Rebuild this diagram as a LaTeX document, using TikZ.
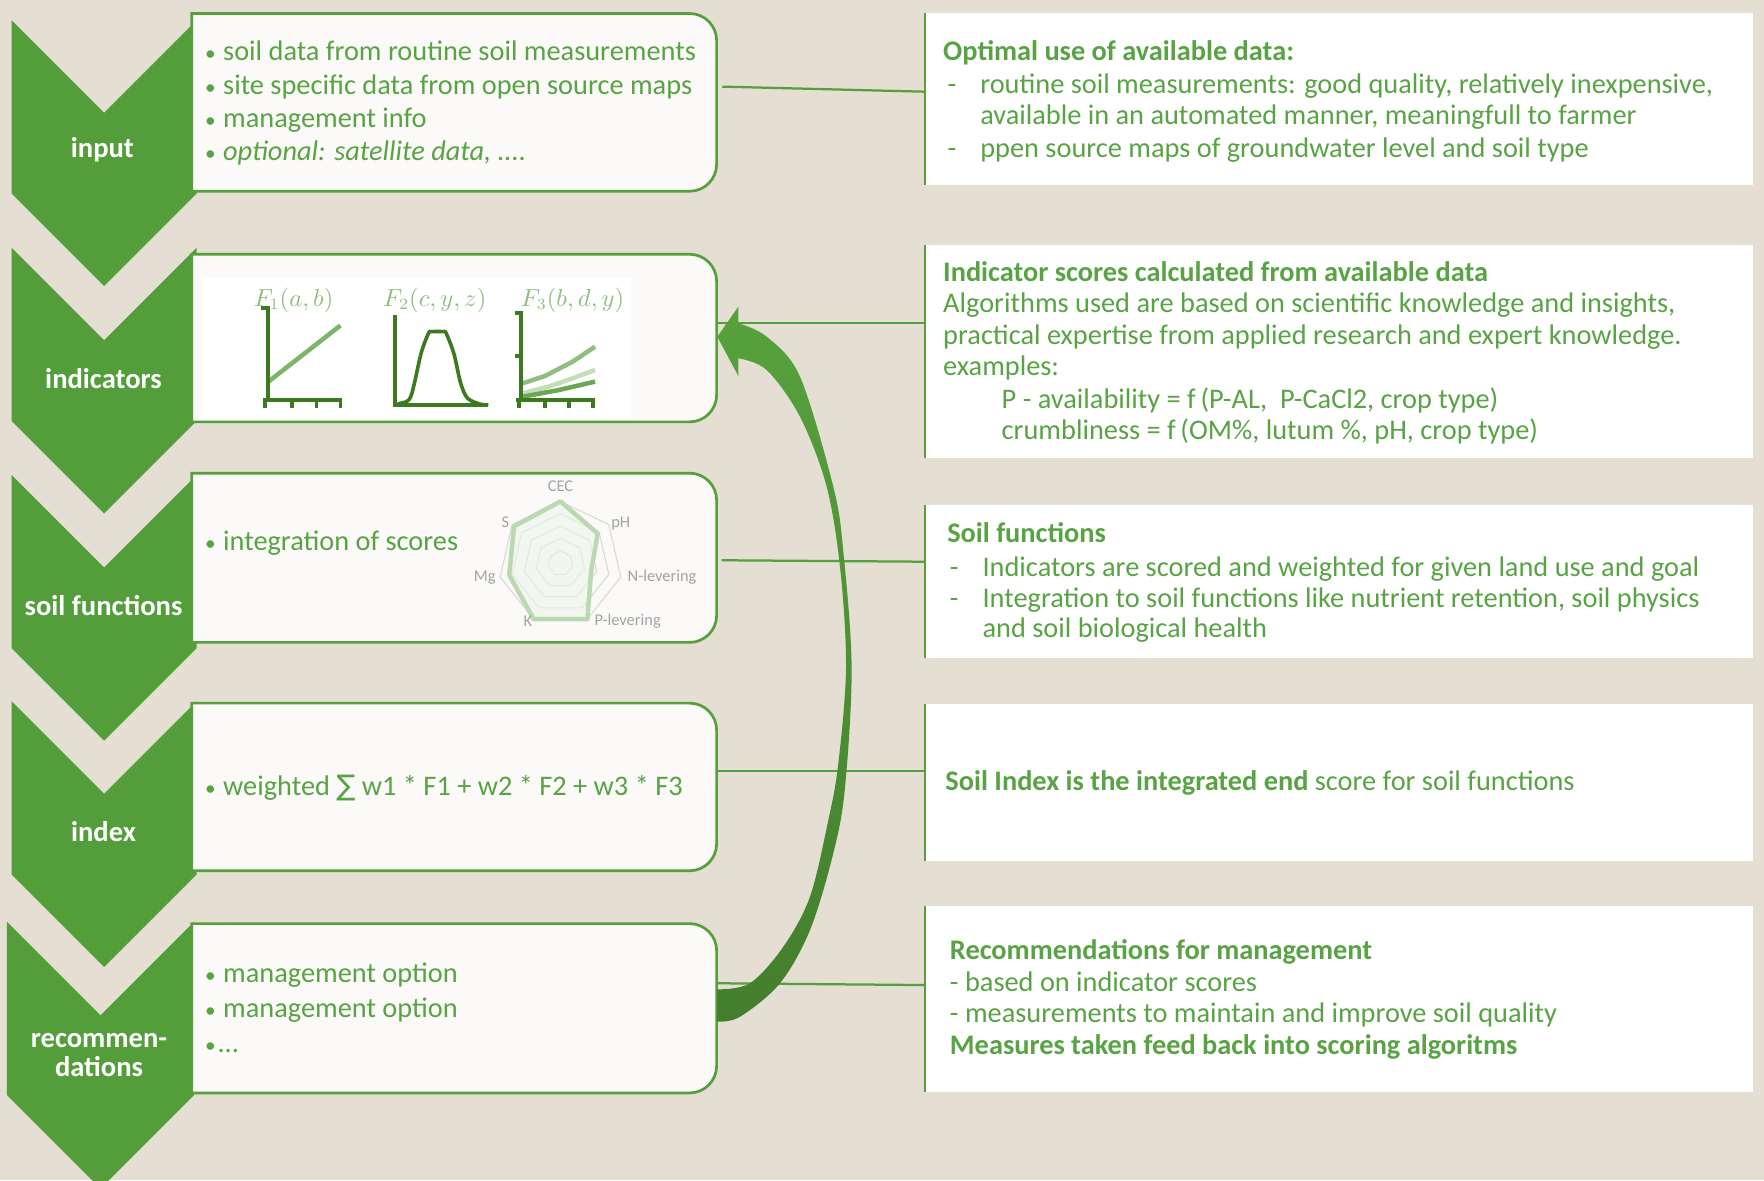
\documentclass[tikz,border=0pt]{standalone}
\usepackage{fontspec}
\setmainfont{Carlito}
\newfontfamily\djv{DejaVu Sans}
\usetikzlibrary{calc}
\definecolor{bg}{HTML}{E4DED3}
\definecolor{chev}{HTML}{539E3B}
\definecolor{gr}{HTML}{55A03C}
\definecolor{txt}{HTML}{58A343}
\definecolor{boxfill}{HTML}{FBFAF8}
\definecolor{dk}{HTML}{3B7A1F}
\definecolor{cmid}{HTML}{7DB46A}
\definecolor{cla}{HTML}{8FBF80}
\definecolor{clb}{HTML}{C3DDB8}
\definecolor{clc}{HTML}{6AA856}
\definecolor{flbl}{HTML}{8DBE7E}
\definecolor{radgray}{HTML}{A3A3A3}
\definecolor{radgrid}{HTML}{D9D9D9}
\definecolor{arrtop}{HTML}{57A23D}
\definecolor{arrbot}{HTML}{437E2D}
\newcommand\bul{\makebox[8pt][l]{\scalebox{0.75}{•}}}
\newcommand\dsh{\makebox[14.5pt][l]{-}}
\newcommand\chevron[3]{%
  \fill[chev] (#1,#3) -- ({(#1+#2)/2},{#3+(#2-#1)/2}) -- (#2,#3) -- (#2,#3+154)
   -- ({(#1+#2)/2},{#3+154+(#2-#1)/2}) -- (#1,#3+154) -- cycle;}
\newcommand\ibox[2]{%
  \path[boxst] (170.4,#1) -- (613,#1) .. controls (626.25,#1) and (637,#1+10.75) .. (637,#1+24)
   -- (637,#2-24) .. controls (637,#2-10.75) and (626.25,#2) .. (613,#2) -- (170.4,#2) -- cycle;}
\newcommand\panel[2]{%
  \fill[white] (822,#1) rectangle (1558.5,#2);
  \draw[gr, line width=1pt] (822,#1) -- (822,#2);}
\begin{document}
\begin{tikzpicture}[x=0.5pt,y=-0.5pt,
  tx/.style={anchor=base west, inner sep=0pt, text=txt, font=\fontsize{12.6}{14}\selectfont},
  tb/.style={anchor=base west, inner sep=0pt, text=txt, font=\fontsize{12.6}{14}\selectfont\bfseries},
  lbl/.style={anchor=base, inner sep=0pt, text=white, font=\fontsize{12.7}{14}\selectfont\bfseries},
  boxst/.style={draw=gr, line width=1.2pt, fill=boxfill},
  conn/.style={draw=gr, line width=1pt},
  axisst/.style={draw=dk, line width=1.7pt},
  flab/.style={anchor=base, inner sep=0pt, text=flbl, font=\fontsize{10.5}{12}\selectfont},
  rl/.style={text=radgray, font=\fontsize{7.3}{8}\selectfont, inner sep=0pt},
]
\fill[bg] (0,0) rectangle (1568,1049);
\useasboundingbox (0,0) rectangle (1568,1049);

% chevrons
\chevron{10.4}{174.8}{18}
\chevron{10.4}{174.8}{220.3}
\chevron{10.4}{174.8}{422.2}
\chevron{10.4}{174.8}{623.3}
\chevron{6.1}{172.5}{819.3}

\node[lbl] (linput) at (91,140) {input};
\node[lbl] (lind) at (92,345) {indicators};
\node[lbl] (lsoil) at (92,547) {soil functions};
\node[lbl] (lindex) at (92,748) {index};
\node[lbl] (lrec1) at (88,931.4) {recommen-};
\node[lbl] (lrec2) at (88,956.6) {dations};

% boxes
\ibox{12}{170}
\ibox{226}{375}
\ibox{420.6}{571}
\ibox{625}{774}
\ibox{821}{971.5}

% box 1 text
\node[tx] (i1) at (182,54) {\bul soil data from routine soil measurements};
\node[tx] (i2) at (182,84) {\bul site specific data from open source maps};
\node[tx] (i3) at (182,113) {\bul management info};
\node[tx] (i4) at (182,143) {\bul \itshape optional: satellite data, ....};

% box 2 charts
\fill[white] (180,247.4) rectangle (560.9,370.4);
\node[flab] (fa) at (261,272) {$F_1(a,b)$};
\node[flab] (fb) at (386.5,272) {$F_2(c,y,z)$};
\node[flab] (fc) at (509,272) {$F_3(b,d,y)$};
% chart 1
\draw[cmid, line width=2pt] (238,339.7) -- (302.6,289.3);
\draw[axisst] (232,274) -- (238,274) -- (238,355.6);
\draw[axisst] (234,355.6) -- (303.8,355.6);
\foreach \t in {235.8,259.8,281.3,302.6} \draw[axisst] (\t,355.6) -- (\t,363);
% chart 2
\draw[axisst] (351.3,280) -- (351.3,360) -- (434,360);
\draw[dk, line width=1.6pt, line join=round] plot[smooth, tension=0.5] coordinates {(351.3,360) (355.9,358.5) (365.1,352.6) (374.3,314.1) (381,296) (383.5,294.8) (394.2,294.8) (396.5,296) (403.4,314.1) (409.5,340.7) (415.6,354) (426.3,359.1) (434,360)};
% chart 3
\draw[cla, line width=2pt] (464.6,340.7) -- (484.5,334.2) -- (509,321.5) -- (528.9,308.1);
\draw[clb, line width=2pt] (464.6,349.6) -- (487.5,343.7) -- (509,336.3) -- (528.9,328.9);
\draw[clc, line width=2pt] (464.6,352.6) -- (496.7,346.7) -- (528.9,339.2);
\draw[axisst] (458,278.5) -- (463,278.5) -- (463,355.5);
\draw[axisst] (458,316.4) -- (463,316.4);
\draw[axisst] (458.5,355.5) -- (528.9,355.5);
\foreach \t in {461.5,484.5,505.9,527.3} \draw[axisst] (\t,355.5) -- (\t,363);

% box 3
\node[tx] (s1) at (182,489) {\bul integration of scores};
\foreach \r in {11,22,33,44,55}
  \draw[radgrid, line width=0.5pt] (498.2,{500.7-\r}) \foreach \k in {1,...,6} { -- ({498.2+\r*sin(\k*360/7)},{500.7-\r*cos(\k*360/7)}) } -- cycle;
\foreach \v [count=\k from 0] in {1,0.77,0.51,1,1,0.85,0.96}
  \coordinate (d\k) at ({498.2+55*\v*sin(\k*360/7)},{500.7-55*\v*cos(\k*360/7)});
\draw[gr!40, fill=gr!12, fill opacity=0.6, line width=2pt, line join=round] (d0) -- (d1) -- (d2) -- (d3) -- (d4) -- (d5) -- (d6) -- cycle;
\node[rl] (rcec) at (498.2,432.6) {CEC};
\node[rl] (rph) at (551.8,465.2) {pH};
\node[rl] (rn) at (588.5,513.2) {N-levering};
\node[rl] (rp) at (557.9,552) {P-levering};
\node[rl] (rk) at (469.2,552.6) {K};
\node[rl] (rmg) at (430.9,513.2) {Mg};
\node[rl] (rs) at (449.3,464.6) {S};

% box 4
\node[tx] (x1) at (182,707) {\bul weighted {\djv ∑} w1 * F1 + w2 * F2 + w3 * F3};

% box 5
\node[tx] (m1) at (182,873) {\bul management option};
\node[tx] (m2) at (182,904.2) {\bul management option};
\node[tx] (m3) at (182,935.9) {\makebox[5.5pt][l]{\scalebox{0.75}{•}}...};

% panels
\panel{11.3}{164.4}
\panel{217.8}{406.8}
\panel{448.9}{585.2}
\panel{626}{765}
\panel{805.3}{970.4}

% connectors
\coordinate (b1e) at (642,77);    \coordinate (p1w) at (822,81.5);
\coordinate (b2e) at (637.6,287); \coordinate (p2w) at (822,287);
\coordinate (b3e) at (641.5,498); \coordinate (p3w) at (822,499.3);
\coordinate (b4e) at (637.6,685); \coordinate (p4w) at (822,685);
\coordinate (b5e) at (637.6,874); \coordinate (p5w) at (822,875.6);
\draw[conn] (b1e) -- (p1w);
\draw[conn] (b2e) -- (p2w);
\draw[conn] (b3e) -- (p3w);
\draw[conn] (b4e) -- (p4w);
\draw[conn] (b5e) -- (p5w);

% panel 1 text
\node[tb] (t1a) at (838,53.8) {Optimal use of available data:};
\node[tx] (t1b) at (842,83.4) {\dsh routine soil measurements: good quality, relatively inexpensive,};
\node[tx] (t1c) at (871,110.7) {available in an automated manner, meaningfull to farmer};
\node[tx] (t1d) at (842,139.7) {\dsh ppen source maps of groundwater level and soil type};

% panel 2 text
\node[tb] (t2a) at (838,249.8) {Indicator scores calculated from available data};
\node[tx] (t2b) at (838,278) {Algorithms used are based on scientific knowledge and insights,};
\node[tx] (t2c) at (838,306) {practical expertise from applied research and expert knowledge.};
\node[tx] (t2d) at (838,333.5) {examples:};
\node[tx] (t2e) at (890,363.5) {P - availability = f\,(P-AL,\ \ P-CaCl2, crop type)};
\node[tx] (t2f) at (890,390.5) {crumbliness = f\,(OM\%, lutum \%, pH, crop type)};

% panel 3 text
\node[tb] (t3a) at (841.6,482.5) {Soil functions};
\node[tx] (t3b) at (844,512.2) {\dsh Indicators are scored and weighted for given land use and goal};
\node[tx] (t3c) at (844,540.3) {\dsh Integration to soil functions like nutrient retention, soil physics};
\node[tx] (t3d) at (873,567) {and soil biological health};

% panel 4 text
\node[tx] (t4a) at (840,703) {\textbf{Soil Index is the integrated end} score for soil functions};

% panel 5 text
\node[tb] (t5a) at (844,853) {Recommendations for management};
\node[tx] (t5b) at (844,881) {- based on indicator scores};
\node[tx] (t5c) at (844,909) {- measurements to maintain and improve soil quality};
\node[tb] (t5d) at (844,937.5) {Measures taken feed back into scoring algoritms};

% curved feedback arrow
\shade[top color=arrtop, bottom color=arrbot]
  plot[smooth, tension=0.55] coordinates {(637.6,908.1) (657.8,903.8) (693.3,874) (720,826.7) (740.7,758.5) (751,701) (757,594) (749.6,490) (740.7,432.6) (711.1,334.8) (681.5,299.3) (656.3,287.4)}
  -- (656.3,272.6) -- (637.6,299.3) -- (656.3,334.2)
  -- plot[smooth, tension=0.55] coordinates {(656.3,318.5) (681.5,328.9) (711.1,370.4) (734.8,432.6) (747,507) (752,594) (745,680) (736.3,728.9) (720,797) (696.3,841.5) (666.7,874) (637.6,879.4)}
  -- cycle;
\end{tikzpicture}
\end{document}
